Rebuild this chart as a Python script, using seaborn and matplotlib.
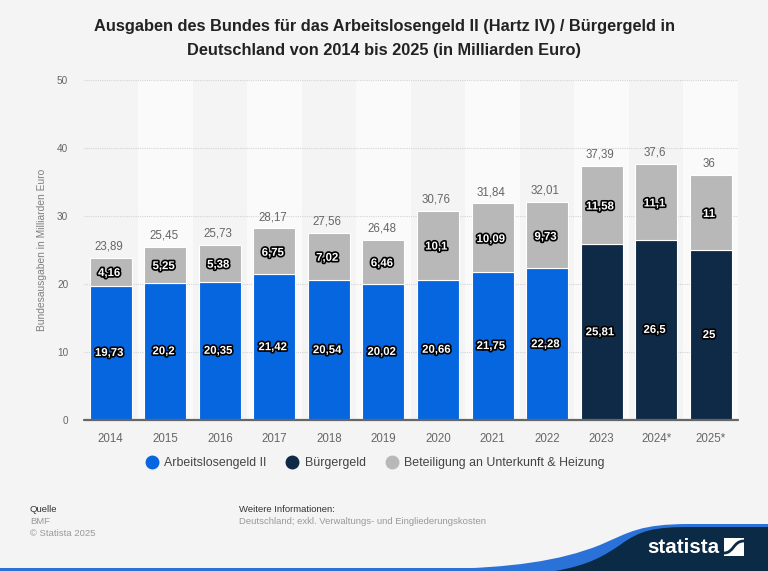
"""Bundesausgaben Arbeitslosengeld II / Buergergeld, stacked bars in Statista style."""
import matplotlib

matplotlib.use("Agg")
import matplotlib.pyplot as plt
import matplotlib.patheffects as pe
import numpy as np
import seaborn as sns
from matplotlib.lines import Line2D
from matplotlib.path import Path
from matplotlib.patches import PathPatch, Rectangle

years = ["2014", "2015", "2016", "2017", "2018", "2019", "2020", "2021", "2022", "2023", "2024*", "2025*"]
alg2 = [19.73, 20.2, 20.35, 21.42, 20.54, 20.02, 20.66, 21.75, 22.28, np.nan, np.nan, np.nan]
buergergeld = [np.nan] * 9 + [25.81, 26.5, 25]
unterkunft = [4.16, 5.25, 5.38, 6.75, 7.02, 6.46, 10.1, 10.09, 9.73, 11.58, 11.1, 11]
totals = [23.89, 25.45, 25.73, 28.17, 27.56, 26.48, 30.76, 31.84, 32.01, 37.39, 37.6, 36]

BG = "#f4f4f4"
BLUE = "#0666e0"
NAVY = "#0e2a47"
GREY = "#b8b8b8"
TXT = "#666666"


def fmt(v):
    return f"{v:g}".replace(".", ",")


sns.set_theme(style="white", rc={"axes.facecolor": BG, "figure.facecolor": BG})
plt.rcParams["font.family"] = ["Liberation Sans", "DejaVu Sans"]

fig = plt.figure(figsize=(7.68, 5.71), dpi=100)
W, H = 768, 571
ax = fig.add_axes([83.5 / W, 1 - 420 / H, 654.5 / W, 340 / H])

# alternating column bands
for i in range(1, len(years), 2):
    ax.axvspan(i - 0.5, i + 0.5, color="#fafafa", lw=0, zorder=0)
for y in [10, 20, 30, 40, 50]:
    ax.axhline(y, color="#d4d4d4", lw=0.8, ls=(0, (1, 1)), zorder=1)

base = np.nan_to_num(alg2) + np.nan_to_num(buergergeld)
bar_kw = dict(width=0.77, edgecolor="white", linewidth=0.8, zorder=2, ax=ax)
sns.barplot(x=years, y=alg2, color=BLUE, saturation=1, **bar_kw)
sns.barplot(x=years, y=buergergeld, color=NAVY, saturation=1, **bar_kw)
sns.barplot(x=years, y=unterkunft, bottom=base, color=GREY, saturation=1, **bar_kw)
ax.axhline(0, color="#666666", lw=1.6, zorder=3, clip_on=False)

stroke = [pe.withStroke(linewidth=2.4, foreground="black")]
inner = dict(ha="center", va="center", color="white", fontsize=8.2, fontweight="bold",
             path_effects=stroke, zorder=4)
for i in range(len(years)):
    ax.text(i - 0.03, base[i] / 2, fmt(base[i]), **inner)
    ax.text(i - 0.03, base[i] + unterkunft[i] / 2 - 0.2, fmt(unterkunft[i]), **inner)
    ax.text(i - 0.03, totals[i] + 0.8, fmt(totals[i]), ha="center", va="bottom",
            color=TXT, fontsize=8.3, zorder=4)

ax.set_xlim(-0.5, len(years) - 0.5)
ax.set_ylim(0, 50)
ax.set_yticks([0, 10, 20, 30, 40, 50])
ax.tick_params(axis="y", length=0, pad=11, labelsize=7.2, labelcolor=TXT)
ax.tick_params(axis="x", length=0, pad=9, labelsize=8.3, labelcolor=TXT)
ax.set_ylabel("")
ax.set_xlabel("")
sns.despine(ax=ax, left=True, bottom=True, top=True, right=True)
fig.text(42 / W, 1 - 250 / H, "Bundesausgaben in Milliarden Euro", rotation=90,
         ha="center", va="center", fontsize=7.4, color="#808080")

fig.text(384 / W, 1 - 27 / H, "Ausgaben des Bundes für das Arbeitslosengeld II (Hartz IV) / Bürgergeld in",
         ha="center", va="center", fontsize=11.8, fontweight="bold", color="#222222")
fig.text(384 / W, 1 - 51 / H, "Deutschland von 2014 bis 2025 (in Milliarden Euro)",
         ha="center", va="center", fontsize=11.8, fontweight="bold", color="#222222")

handles = [Line2D([], [], marker="o", ls="", ms=9, color=c) for c in [BLUE, NAVY, GREY]]
fig.legend(handles, ["Arbeitslosengeld II", "Bürgergeld", "Beteiligung an Unterkunft & Heizung"],
           loc="center", bbox_to_anchor=(375 / W, 1 - 463 / H), ncol=3, frameon=False,
           fontsize=8.9, labelcolor="#444444", handlelength=1, handletextpad=0.5, columnspacing=1.6)

# footer drawn in pixel coordinates
foot = fig.add_axes([0, 0, 1, 1], facecolor="none", zorder=5)
foot.set_xlim(0, W)
foot.set_ylim(H, 0)
foot.axis("off")

C4 = Path.CURVE4
swoosh_blue = Path(
    [(440, 569), (510, 568), (560, 561), (600, 545), (630, 532), (640, 524), (690, 524),
     (768, 524), (768, 571), (440, 571), (440, 569)],
    [Path.MOVETO, C4, C4, C4, C4, C4, C4, Path.LINETO, Path.LINETO, Path.LINETO, Path.CLOSEPOLY],
)
swoosh_navy = Path(
    [(555, 571), (590, 565), (605, 555), (620, 545), (640, 530), (655, 527), (690, 527),
     (768, 527), (768, 571), (555, 571), (555, 571)],
    [Path.MOVETO, C4, C4, C4, C4, C4, C4, Path.LINETO, Path.LINETO, Path.LINETO, Path.CLOSEPOLY],
)
logo_curve = Path([(724, 553), (734, 553), (733, 541), (744, 541)], [Path.MOVETO, C4, C4, C4])
foot.add_patch(Rectangle((0, 568), W, 3, color="#2a72d8", lw=0))
foot.add_patch(PathPatch(swoosh_blue, color="#2a72d8", lw=0))
foot.add_patch(PathPatch(swoosh_navy, color="#0b2a45", lw=0))
foot.text(647, 547.5, "statista", color="white", fontsize=14.8, fontweight="bold", va="center", ha="left")
foot.add_patch(Rectangle((724, 538), 20, 18, color="white", lw=0))
foot.add_patch(PathPatch(logo_curve, facecolor="none", edgecolor="#0b2a45", lw=2))

foot.text(30, 509, "Quelle", fontsize=6.8, color="#333333", va="center")
foot.text(30, 521, "BMF", fontsize=6.8, color="#999999", va="center")
foot.text(30, 534, "© Statista 2025", fontsize=6.8, color="#999999", va="center")
foot.text(239, 509, "Weitere Informationen:", fontsize=6.8, color="#333333", va="center")
foot.text(239, 522, "Deutschland; exkl. Verwaltungs- und Eingliederungskosten", fontsize=6.8,
          color="#999999", va="center")

fig.savefig("out.png", dpi=100, facecolor=BG)
